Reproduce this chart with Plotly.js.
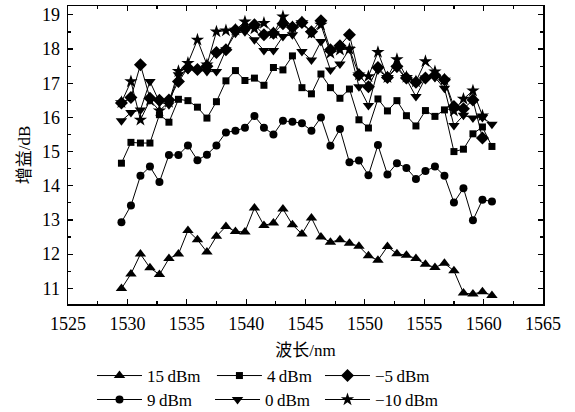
<!DOCTYPE html>
<html>
<head>
<meta charset="utf-8">
<script src="https://cdn.plot.ly/plotly-3.0.1.min.js"></script>
<style>html,body{margin:0;padding:0;background:#fff;}#chart{width:575px;height:412px;}</style>
</head>
<body>
<div id="chart"></div>
<script>
// Wavelength (nm)
const wavelength = [1529.5, 1530.3, 1531.1, 1531.9, 1532.7, 1533.5, 1534.3, 1535.1, 1535.9, 1536.7,
  1537.5, 1538.3, 1539.1, 1539.9, 1540.7, 1541.5, 1542.3, 1543.1, 1543.9, 1544.7,
  1545.5, 1546.3, 1547.1, 1547.9, 1548.7, 1549.5, 1550.3, 1551.1, 1551.9, 1552.7,
  1553.5, 1554.3, 1555.1, 1555.9, 1556.7, 1557.5, 1558.3, 1559.1, 1559.9, 1560.7];

// Gain (dB) per power level
const gain15 = [10.99, 11.42, 12.0, 11.6, 11.4, 11.87, 12.0, 12.69, 12.42, 12.06,
  12.52, 12.81, 12.66, 12.65, 13.35, 12.84, 12.91, 13.32, 12.86, 12.59,
  13.06, 12.5, 12.35, 12.42, 12.32, 12.23, 11.95, 11.82, 12.22, 12.01,
  11.97, 11.87, 11.7, 11.61, 11.73, 11.51, 10.86, 10.83, 10.9, 10.79];
const gain9 = [12.93, 13.42, 14.29, 14.56, 14.11, 14.9, 14.9, 15.18, 14.75, 14.91,
  15.18, 15.56, 15.61, 15.7, 16.04, 15.7, 15.5, 15.9, 15.87, 15.83,
  15.61, 16.0, 15.17, 15.66, 14.69, 14.74, 14.31, 15.19, 14.33, 14.66,
  14.52, 14.2, 14.43, 14.56, 14.29, 13.51, 13.93, 12.99, 13.59, 13.54];
const gain4 = [14.66, 15.27, 15.25, 15.25, 16.08, 15.86, 16.53, 16.49, 16.3, 15.98,
  16.46, 17.07, 17.37, 17.08, 17.15, 16.94, 17.46, 17.39, 17.8, 16.87,
  16.69, 17.27, 16.87, 16.56, 16.83, 15.93, 15.69, 16.54, 16.19, 16.49,
  16.05, 15.75, 16.2, 16.03, 16.22, 15.0, 15.07, 15.52, 15.72, 15.15];
const gain0 = [15.9, 16.14, 16.22, 17.05, 16.45, 16.37, 17.25, 17.4, 17.39, 17.34,
  17.34, 17.98, 18.46, 18.51, 18.27, 17.96, 17.96, 18.37, 18.42, 17.93,
  17.68, 18.22, 17.39, 17.56, 18.0, 16.9, 16.35, 17.39, 17.17, 17.45,
  17.12, 16.61, 17.15, 17.17, 16.85, 15.76, 16.06, 15.98, 16.0, 15.8];
const gainM5 = [16.42, 16.58, 17.54, 16.56, 16.5, 16.51, 17.05, 17.45, 17.4, 17.5,
  17.9, 17.98, 18.56, 18.61, 18.71, 18.42, 18.46, 18.74, 18.64, 18.78,
  18.51, 18.83, 17.98, 18.1, 18.42, 17.25, 16.9, 17.46, 17.17, 17.49,
  17.15, 17.03, 17.15, 17.23, 17.1, 16.32, 16.25, 16.51, 15.4];
const gainM10 = [16.44, 17.05, 15.93, 16.5, 16.2, 16.45, 17.35, 17.59, 18.27, 17.54,
  18.51, 18.54, 18.56, 18.8, 18.6, 18.76, 18.46, 18.95, 18.64, 18.78,
  18.46, 18.71, 17.88, 17.98, 18.0, 17.25, 17.2, 17.91, 17.17, 17.7,
  17.18, 17.05, 17.64, 17.34, 17.1, 16.19, 16.54, 16.78, 16.05];

const seriesNames = ['15\u2009dBm', '4\u2009dBm', '\u22125\u2009dBm', '9\u2009dBm', '0\u2009dBm', '\u221210\u2009dBm'];
const xTicks = [1525, 1530, 1535, 1540, 1545, 1550, 1555, 1560, 1565];
const yTicks = [11, 12, 13, 14, 15, 16, 17, 18, 19];

const serif = 'Liberation Serif, Times New Roman, serif';
function tr(y, name, symbol, size, legend) {
  return {
    x: wavelength.slice(0, y.length), y: y, name: name, type: 'scatter', mode: 'lines+markers',
    line: {color: '#000', width: 1},
    marker: {symbol: symbol, size: size, color: '#000', line: {width: 0}},
    legend: legend
  };
}
const data = [
  tr(gain15, seriesNames[0], 'triangle-up', 10, 'legend'),
  tr(gain4, seriesNames[1], 'square', 7, 'legend2'),
  tr(gainM5, seriesNames[2], 'diamond', 10, 'legend3'),
  tr(gain9, seriesNames[3], 'circle', 8, 'legend4'),
  tr(gain0, seriesNames[4], 'triangle-down', 10, 'legend5'),
  tr(gainM10, seriesNames[5], 'star', 10, 'legend6')
];
const axisCommon = {
  showgrid: false, zeroline: false, showline: true, linecolor: '#000', linewidth: 1.5,
  mirror: 'ticks', ticks: 'inside', ticklen: 5, tickwidth: 1.2, tickcolor: '#000',
  tickfont: {family: serif, size: 18, color: '#000'}
};
const legendCommon = {
  orientation: 'h', xanchor: 'left', yanchor: 'middle', bgcolor: 'rgba(0,0,0,0)',
  font: {family: serif, size: 17, color: '#000'}, itemwidth: 45
};
const row1 = -0.2416, row2 = -0.322;
const layout = {
  width: 575, height: 412,
  margin: {l: 68, r: 32, t: 6, b: 108, autoexpand: false},
  paper_bgcolor: '#fff', plot_bgcolor: '#fff',
  showlegend: true,
  xaxis: Object.assign({}, axisCommon, {
    range: [1525, 1565], tickvals: xTicks, ticktext: xTicks.map(String), ticklabelstandoff: 3,
    minor: {dtick: 2.5, tick0: 1525, ticks: 'inside', ticklen: 3, tickcolor: '#000', tickwidth: 1.2},
    title: {text: '波长/nm', font: {family: 'Liberation Serif, Noto Sans CJK SC', size: 17, color: '#000'}, standoff: 11}
  }),
  yaxis: Object.assign({}, axisCommon, {
    range: [10.54, 19.26], tickvals: yTicks, ticktext: yTicks.map(String), ticklabelstandoff: 3,
    minor: {dtick: 0.5, tick0: 10, ticks: 'inside', ticklen: 3, tickcolor: '#000', tickwidth: 1.2},
    title: {text: '增益/dB', font: {family: 'Liberation Serif, Noto Sans CJK SC', size: 17, color: '#000'}, standoff: 7}
  }),
  legend: Object.assign({}, legendCommon, {x: 0.0505, y: row1}),
  legend2: Object.assign({}, legendCommon, {x: 0.303, y: row1}),
  legend3: Object.assign({}, legendCommon, {x: 0.5305, y: row1}),
  legend4: Object.assign({}, legendCommon, {x: 0.0505, y: row2}),
  legend5: Object.assign({}, legendCommon, {x: 0.299, y: row2}),
  legend6: Object.assign({}, legendCommon, {x: 0.5305, y: row2})
};
Plotly.newPlot('chart', data, layout, {displayModeBar: false, staticPlot: true});
</script>
</body>
</html>
